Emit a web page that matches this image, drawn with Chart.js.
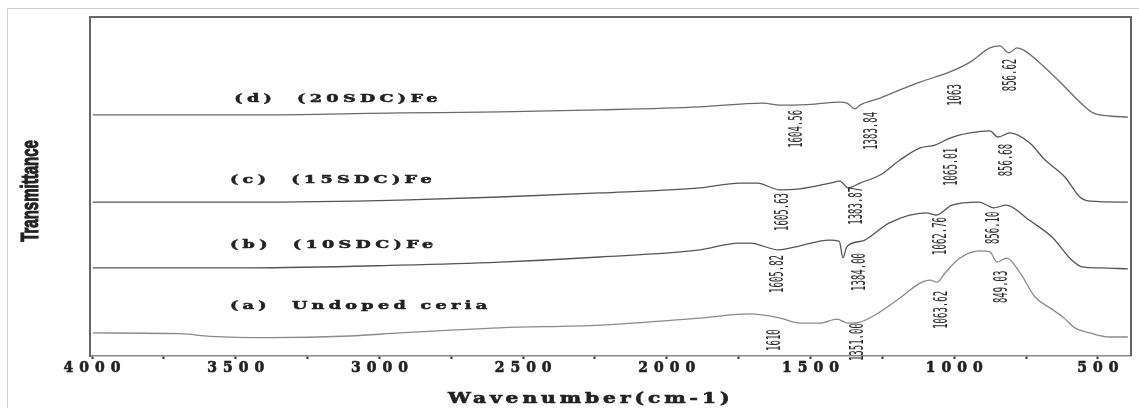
<!DOCTYPE html>
<html>
<head>
<meta charset="utf-8">
<script src="https://cdn.jsdelivr.net/npm/chart.js@4.4.0/dist/chart.umd.min.js"></script>
<style>
html, body { margin: 0; padding: 0; background: #fff; }
canvas { display: block; }
</style>
</head>
<body>
<canvas id="ftir" width="1139" height="408"></canvas>
<script>
// FTIR spectra, values (wavenumber cm-1, transmittance a.u.)
const wnD = [3997, 3450, 2928, 2581, 2233, 1885, 1666, 1606, 1572, 1485, 1398, 1373, 1345, 1328, 1258, 1189, 1119, 1015, 945, 876, 841, 810, 782, 754, 702, 632, 563, 517, 458, 396];
const tD  = [71.1, 71.1, 71.7, 72.0, 72.6, 73.5, 74.6, 74.0, 74.0, 74.3, 74.9, 74.6, 72.9, 74.0, 76.1, 78.5, 80.8, 83.8, 86.7, 90.9, 91.5, 89.4, 90.9, 90.0, 86.4, 80.8, 74.9, 71.7, 70.8, 70.5];

const wnC = [3997, 3450, 2928, 2581, 2233, 1885, 1746, 1686, 1606, 1537, 1432, 1398, 1370, 1328, 1258, 1189, 1119, 1067, 1015, 945, 876, 848, 806, 737, 684, 615, 563, 528, 396];
const tC  = [45.4, 45.4, 46.0, 46.9, 48.1, 49.6, 51.0, 51.0, 49.0, 49.3, 51.0, 51.6, 49.6, 51.0, 53.4, 57.8, 61.4, 62.2, 64.3, 65.8, 66.4, 64.6, 65.8, 62.8, 57.8, 52.8, 46.9, 45.7, 45.4];

const wnB = [3997, 3450, 2928, 2581, 2233, 1885, 1749, 1711, 1610, 1537, 1436, 1400, 1387, 1375, 1363, 1311, 1227, 1098, 1064, 1008, 914, 862, 820, 740, 660, 591, 556, 493, 396];
const tB  = [26.0, 26.0, 26.8, 27.7, 29.2, 31.3, 33.3, 33.3, 31.3, 32.5, 34.2, 33.8, 29.0, 32.0, 33.0, 34.2, 39.2, 42.2, 41.6, 44.5, 45.4, 43.7, 44.5, 40.1, 35.1, 28.3, 26.3, 26.0, 25.7];

const wnA = [3997, 3694, 3589, 3381, 3102, 2928, 2581, 2233, 1885, 1711, 1606, 1537, 1467, 1408, 1370, 1328, 1258, 1189, 1119, 1085, 1060, 1032, 980, 911, 876, 851, 817, 771, 719, 667, 622, 580, 528, 458, 396];
const tA  = [6.8, 6.6, 5.8, 5.4, 5.9, 6.8, 8.3, 9.1, 11.2, 12.4, 11.2, 9.7, 9.7, 10.9, 9.7, 10.0, 13.0, 17.1, 21.5, 22.4, 21.8, 24.5, 28.9, 31.0, 30.7, 27.7, 28.9, 24.5, 17.4, 14.2, 11.5, 8.3, 6.8, 5.6, 5.6];

const seriesNames = ['(d)  (20SDC)Fe', '(c)  (15SDC)Fe', '(b)  (10SDC)Fe', '(a)  Undoped ceria'];
const seriesNameWn = [3505, 3520, 3520, 3520];
const seriesNameT = [75.8, 51.9, 32.7, 14.7];

// peak labels: text, wavenumber, transmittance of label centre
const peakText = ['1604.56', '1383.84', '1063', '856.62',
                  '1605.63', '1383.87', '1065.01', '856.68',
                  '1605.82', '1384.00', '1062.76', '856.10',
                  '1610', '1351.00', '1063.62', '849.03'];
const peakWn = [1547, 1286, 994, 803,
                1596, 1338, 1008, 817,
                1613, 1328, 1046, 862,
                1624, 1335, 1043, 834];
const peakT = [67.0, 66.4, 77.0, 82.9,
               42.5, 44.3, 55.8, 57.8,
               24.2, 24.8, 35.4, 37.8,
               4.7, 4.1, 13.6, 20.4];

const xTickValues = [4000, 3750, 3500, 3250, 3000, 2750, 2500, 2250, 2000, 1750, 1500, 1250, 1000, 750, 500];
const xLabelStep = 500;

const toPoints = (wn, t) => wn.map((w, i) => ({ x: w, y: t[i] }));

const lineStyle = (color) => ({
    borderColor: color,
    borderWidth: 1.3,
    pointRadius: 0,
    fill: false,
    cubicInterpolationMode: 'monotone'
});

// wide, heavy text like the typewriter-style labels of the figure
function wideText(ctx, txt, px, py, sx, spacing, align) {
    ctx.save();
    ctx.translate(px, py);
    ctx.scale(sx, 1);
    ctx.letterSpacing = spacing;
    ctx.textAlign = align;
    ctx.fillText(txt, 0, 0);
    ctx.strokeText(txt, 0, 0);
    ctx.restore();
}

// extra text and frame drawn on top of the chart
const textLayer = {
    id: 'textLayer',
    beforeUpdate(chart) {
        chart.ctx.letterSpacing = '6px';
    },
    beforeDraw(chart) {
        const ctx = chart.ctx;
        ctx.save();
        ctx.fillStyle = '#fff';
        ctx.fillRect(0, 0, chart.width, chart.height);
        ctx.strokeStyle = '#cfcfcf';
        ctx.lineWidth = 1;
        ctx.beginPath();
        ctx.moveTo(7.5, chart.height);
        ctx.lineTo(7.5, 8.5);
        ctx.lineTo(chart.width, 8.5);
        ctx.stroke();
        ctx.restore();
        ctx.letterSpacing = '6px';
    },
    afterDraw(chart) {
        const { ctx, chartArea: a, scales: { x, y } } = chart;
        ctx.save();
        ctx.letterSpacing = '0px';

        // top and right side of the box
        ctx.strokeStyle = '#666';
        ctx.lineWidth = 2;
        ctx.beginPath();
        ctx.moveTo(a.left, a.top);
        ctx.lineTo(a.right, a.top);
        ctx.lineTo(a.right, a.bottom);
        ctx.stroke();

        // series names
        ctx.fillStyle = '#222';
        ctx.strokeStyle = '#222';
        ctx.lineWidth = 0.5;
        ctx.font = 'bold 11px "DejaVu Serif"';
        ctx.textBaseline = 'middle';
        seriesNames.forEach((name, i) => {
            wideText(ctx, name, x.getPixelForValue(seriesNameWn[i]), y.getPixelForValue(seriesNameT[i]), 1.6, '2.7px', 'left');
        });

        // x axis title
        ctx.font = 'bold 15px "DejaVu Serif"';
        ctx.lineWidth = 0.6;
        wideText(ctx, 'Wavenumber(cm-1)', 448, 399, 1.35, '2.9px', 'left');

        // peak positions, vertical
        ctx.fillStyle = '#2a2a2a';
        ctx.font = '9px "DejaVu Sans Mono"';
        ctx.textAlign = 'center';
        peakText.forEach((txt, i) => {
            ctx.save();
            ctx.translate(x.getPixelForValue(peakWn[i]), y.getPixelForValue(peakT[i]));
            ctx.rotate(-Math.PI / 2);
            ctx.scale(1, 2.2);
            ctx.fillText(txt, 0, 0);
            ctx.restore();
        });

        // y axis title
        ctx.fillStyle = '#222';
        ctx.strokeStyle = '#222';
        ctx.lineWidth = 0.7;
        ctx.font = 'bold 15px "Liberation Sans"';
        ctx.translate(31, 191);
        ctx.rotate(-Math.PI / 2);
        ctx.scale(1, 1.6);
        ctx.fillText('Transmittance', 0, 0);
        ctx.strokeText('Transmittance', 0, 0);
        ctx.restore();
    }
};

new Chart(document.getElementById('ftir'), {
    type: 'line',
    data: {
        datasets: [
            { label: seriesNames[0], data: toPoints(wnD, tD), ...lineStyle('#6a6a6a') },
            { label: seriesNames[1], data: toPoints(wnC, tC), ...lineStyle('#555') },
            { label: seriesNames[2], data: toPoints(wnB, tB), ...lineStyle('#555') },
            { label: seriesNames[3], data: toPoints(wnA, tA), ...lineStyle('#8a8a8a') }
        ]
    },
    options: {
        responsive: false,
        animation: false,
        layout: { padding: { top: 17, right: 8, left: 0, bottom: 0 } },
        plugins: {
            legend: { display: false },
            tooltip: { enabled: false }
        },
        scales: {
            x: {
                type: 'linear',
                reverse: true,
                min: 385,
                max: 4007,
                afterFit: s => { s.height = 52; },
                afterBuildTicks: s => {
                    s.ticks = xTickValues.map(v => ({ value: v }));
                },
                border: { display: true, color: '#888', width: 1.5 },
                grid: {
                    display: true,
                    drawOnChartArea: false,
                    tickLength: 3,
                    tickWidth: 2,
                    tickColor: '#333'
                },
                ticks: {
                    padding: 1,
                    labelOffset: 3,
                    maxRotation: 0,
                    autoSkip: false,
                    color: '#222',
                    textStrokeColor: '#222',
                    textStrokeWidth: 0.6,
                    font: { family: '"DejaVu Serif"', size: 14, weight: 'bold' },
                    callback: v => (v % xLabelStep === 0 ? String(v) : '')
                }
            },
            y: {
                min: 0,
                max: 100,
                afterFit: s => { s.width = 90; },
                border: { display: true, color: '#666', width: 2 },
                grid: { display: false },
                ticks: { display: false }
            }
        }
    },
    plugins: [textLayer]
});
</script>
</body>
</html>
